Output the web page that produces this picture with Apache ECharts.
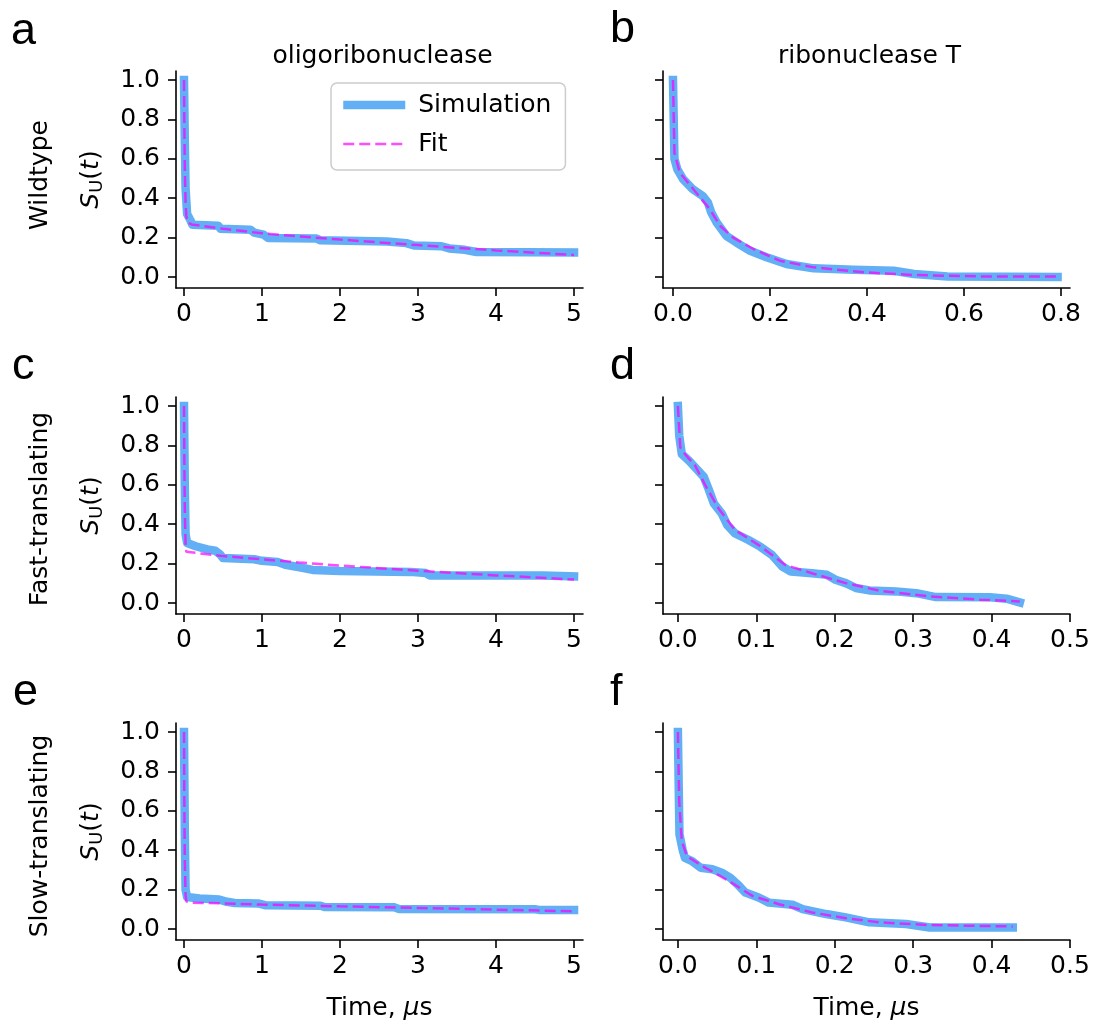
<!DOCTYPE html>
<html><head><meta charset="utf-8">
<script src="https://cdn.jsdelivr.net/npm/echarts@6/dist/echarts.min.js"></script>
<style>html,body{margin:0;padding:0;background:#fff}#c{width:1094px;height:1026px}</style>
</head><body><div id="c"></div>
<script>
// ---------- data ----------
const columnTitles = ['oligoribonuclease', 'ribonuclease T'];
const rowLabels = ['Wildtype', 'Fast-translating', 'Slow-translating'];
const panelLetters = ['a', 'b', 'c', 'd', 'e', 'f'];
const seriesNames = ['Simulation', 'Fit'];
const xTicksOligo = [0, 1, 2, 3, 4, 5];
const xTicksRiboWT = [0, 0.2, 0.4, 0.6, 0.8];
const xTicksRibo = [0, 0.1, 0.2, 0.3, 0.4, 0.5];
const yTicks = [0, 0.2, 0.4, 0.6, 0.8, 1.0];

// a: oligoribonuclease, wildtype
const simA = [[0,1.0],[0.01,0.7],[0.02,0.45],[0.04,0.32],[0.08,0.29],[0.11,0.265],[0.44,0.26],[0.47,0.245],[0.85,0.24],[0.9,0.225],[1.02,0.215],[1.08,0.198],[1.7,0.195],[1.75,0.186],[2.6,0.18],[2.85,0.172],[2.95,0.16],[3.3,0.156],[3.4,0.145],[3.6,0.138],[3.75,0.127],[5.0,0.125]];
const fitA = [[0,1.0],[0.005,0.75],[0.01,0.56],[0.02,0.38],[0.03,0.31],[0.05,0.275],[0.1,0.267],[0.5,0.245],[1.0,0.222],[1.5,0.205],[2.0,0.19],[2.5,0.176],[3.0,0.162],[3.5,0.148],[4.0,0.135],[4.5,0.123],[5.0,0.112]];
// b: ribonuclease T, wildtype
const simB = [[0,1.0],[0.003,0.6],[0.009,0.546],[0.021,0.496],[0.041,0.445],[0.062,0.41],[0.072,0.378],[0.079,0.327],[0.09,0.277],[0.11,0.209],[0.131,0.175],[0.159,0.133],[0.193,0.1],[0.234,0.066],[0.29,0.044],[0.372,0.037],[0.455,0.032],[0.497,0.015],[0.566,0.003],[0.793,0.0]];
const fitB = [[0,1.0],[0.003,0.63],[0.014,0.53],[0.048,0.428],[0.076,0.344],[0.097,0.26],[0.124,0.2],[0.166,0.142],[0.22,0.083],[0.29,0.049],[0.393,0.024],[0.497,0.01],[0.634,0.003],[0.793,0.002]];
// c: oligoribonuclease, fast-translating
const simC = [[0,1.0],[0.01,0.6],[0.02,0.35],[0.04,0.305],[0.15,0.288],[0.3,0.272],[0.4,0.265],[0.46,0.248],[0.5,0.228],[0.9,0.222],[1.0,0.214],[1.2,0.208],[1.3,0.194],[1.5,0.18],[1.65,0.168],[2.0,0.162],[2.9,0.158],[3.1,0.152],[3.15,0.14],[4.6,0.139],[5.0,0.135]];
const fitC = [[0,1.0],[0.005,0.7],[0.01,0.48],[0.02,0.3],[0.03,0.26],[0.05,0.252],[0.5,0.238],[1.0,0.222],[1.5,0.205],[2.0,0.19],[2.5,0.177],[3.0,0.164],[3.5,0.152],[4.0,0.14],[4.5,0.13],[5.0,0.119]];
// d: ribonuclease T, fast-translating
const simD = [[0,1.0],[0.0017,0.85],[0.005,0.756],[0.014,0.723],[0.024,0.68],[0.033,0.64],[0.039,0.58],[0.046,0.504],[0.056,0.454],[0.063,0.395],[0.073,0.353],[0.09,0.32],[0.105,0.286],[0.12,0.244],[0.133,0.185],[0.144,0.16],[0.171,0.151],[0.19,0.143],[0.201,0.118],[0.214,0.101],[0.227,0.076],[0.244,0.064],[0.278,0.059],[0.304,0.05],[0.329,0.03],[0.398,0.029],[0.419,0.022],[0.436,0.003]];
const fitD = [[0,1.0],[0.003,0.79],[0.009,0.756],[0.022,0.697],[0.035,0.597],[0.052,0.479],[0.073,0.37],[0.103,0.294],[0.137,0.193],[0.171,0.151],[0.214,0.101],[0.257,0.062],[0.321,0.034],[0.385,0.017],[0.436,0.008]];
// e: oligoribonuclease, slow-translating
const simE = [[0,1.0],[0.01,0.5],[0.02,0.2],[0.04,0.162],[0.2,0.155],[0.45,0.15],[0.55,0.138],[0.65,0.132],[0.95,0.13],[1.05,0.12],[1.75,0.118],[1.8,0.112],[2.7,0.11],[2.75,0.102],[4.5,0.1],[4.55,0.097],[5.0,0.096]];
const fitE = [[0,1.0],[0.005,0.6],[0.01,0.35],[0.02,0.17],[0.03,0.14],[0.1,0.134],[0.5,0.13],[1.0,0.124],[2.0,0.115],[3.0,0.107],[4.0,0.098],[5.0,0.09]];
// f: ribonuclease T, slow-translating
const simF = [[0,1.0],[0.001,0.73],[0.002,0.48],[0.006,0.403],[0.009,0.361],[0.018,0.345],[0.029,0.311],[0.044,0.303],[0.056,0.286],[0.067,0.26],[0.076,0.227],[0.086,0.185],[0.103,0.16],[0.116,0.134],[0.146,0.123],[0.159,0.101],[0.189,0.076],[0.214,0.059],[0.244,0.034],[0.291,0.025],[0.321,0.008],[0.427,0.008]];
const fitF = [[0,1.0],[0.0017,0.647],[0.005,0.445],[0.0115,0.37],[0.031,0.32],[0.065,0.244],[0.095,0.168],[0.129,0.126],[0.171,0.084],[0.214,0.055],[0.257,0.034],[0.321,0.02],[0.427,0.013]];

// ---------- layout / style ----------
const FONT = 'DejaVu Sans';
const SIM_COLOR = '#63aff5';
const FIT_COLOR = '#ff00ff';
const SIM_W = 8.5, FIT_W = 2.5, FIT_DASH = [11, 5];
const colLeft = [176, 663];
const rowTop = [71, 397, 723];
const GW = 407, GH = 217;
const panels = [
  {sim: simA, fit: fitA, col: 0, row: 0, xmin: -0.1026, xmax: 5.115, ticks: xTicksOligo, fmt: v => String(Math.round(v))},
  {sim: simB, fit: fitB, col: 1, row: 0, xmin: -0.0206, xmax: 0.8186, ticks: xTicksRiboWT, fmt: v => v.toFixed(1)},
  {sim: simC, fit: fitC, col: 0, row: 1, xmin: -0.1026, xmax: 5.115, ticks: xTicksOligo, fmt: v => String(Math.round(v))},
  {sim: simD, fit: fitD, col: 1, row: 1, xmin: -0.019, xmax: 0.5, ticks: xTicksRibo, fmt: v => v.toFixed(1)},
  {sim: simE, fit: fitE, col: 0, row: 2, xmin: -0.1026, xmax: 5.115, ticks: xTicksOligo, fmt: v => String(Math.round(v))},
  {sim: simF, fit: fitF, col: 1, row: 2, xmin: -0.019, xmax: 0.5, ticks: xTicksRibo, fmt: v => v.toFixed(1)}
];
const YMIN = -0.0558, YMAX = 1.0457;

const axLine = {show: true, onZero: false, lineStyle: {color: '#000', width: 1.6}};
const tickStyle = {color: '#000', width: 1.6};
const labelFont = {color: '#000', fontSize: 25, fontFamily: FONT};

const grids = [], xAxes = [], yAxes = [], series = [];
panels.forEach((p, i) => {
  grids.push({left: colLeft[p.col], top: rowTop[p.row], width: GW, height: GH, containLabel: false});
  const xa = {
    type: 'value', gridIndex: i, min: p.xmin, max: p.xmax,
    axisLine: axLine,
    axisTick: {show: true, length: 8, lineStyle: tickStyle, customValues: p.ticks},
    axisLabel: Object.assign({customValues: p.ticks, formatter: p.fmt, margin: 14}, labelFont),
    splitLine: {show: false}
  };
  if (p.row === 2) {
    xa.name = '{n|Time, }{i|\u03bc}{n|s}';
    xa.nameLocation = 'middle';
    xa.nameGap = 56;
    xa.nameTextStyle = {rich: {n: {fontSize: 25, fontFamily: FONT, color: '#000'}, i: {fontSize: 25, fontFamily: FONT, fontStyle: 'italic', color: '#000'}}};
  }
  xAxes.push(xa);
  const ya = {
    type: 'value', gridIndex: i, min: YMIN, max: YMAX,
    axisLine: axLine,
    axisTick: {show: true, length: 8, lineStyle: tickStyle, customValues: yTicks},
    axisLabel: Object.assign({show: p.col === 0, customValues: yTicks, formatter: v => v.toFixed(1), margin: 16}, labelFont),
    splitLine: {show: false}
  };
  if (p.col === 0) {
    ya.name = '{i|S}{s|U}{n|(}{i|t}{n|)}';
    ya.nameLocation = 'middle';
    ya.nameRotate = 90;
    ya.nameGap = 70;
    ya.nameTextStyle = {rich: {
      i: {fontSize: 25, fontFamily: FONT, fontStyle: 'italic', color: '#000', lineHeight: 30},
      n: {fontSize: 25, fontFamily: FONT, color: '#000', lineHeight: 30},
      s: {fontSize: 18, fontFamily: FONT, color: '#000', verticalAlign: 'bottom', lineHeight: 20}
    }};
  }
  yAxes.push(ya);
  series.push({
    name: seriesNames[0], type: 'line', xAxisIndex: i, yAxisIndex: i, data: p.sim,
    symbol: 'none', showSymbol: false, z: 2,
    itemStyle: {color: SIM_COLOR},
    lineStyle: {color: SIM_COLOR, width: SIM_W, cap: 'square', join: 'round'}
  });
  series.push({
    name: seriesNames[1], type: 'line', xAxisIndex: i, yAxisIndex: i, data: p.fit,
    symbol: 'none', showSymbol: false, z: 3,
    itemStyle: {color: FIT_COLOR, opacity: 0.7},
    lineStyle: {color: FIT_COLOR, opacity: 0.7, width: FIT_W, type: FIT_DASH}
  });
});

const graphics = [];
// panel letters
const letterPos = [[11, 32], [610, 30], [12, 367], [610, 367], [13, 693], [610, 693]];
panelLetters.forEach((t, i) => {
  graphics.push({type: 'text', x: letterPos[i][0], y: letterPos[i][1],
    style: {text: t, font: '45px "Liberation Sans"', fill: '#000', textAlign: 'left', textVerticalAlign: 'middle', align: 'left', verticalAlign: 'middle'}});
});
// column titles
columnTitles.forEach((t, c) => {
  graphics.push({type: 'text', x: colLeft[c] + GW / 2 + 3, y: 56,
    style: {text: t, font: '25px "DejaVu Sans"', fill: '#000', textAlign: 'center', textVerticalAlign: 'middle', align: 'center', verticalAlign: 'middle'}});
});
// row labels
const rowCenters = [175, 509, 836];
rowLabels.forEach((t, r) => {
  graphics.push({type: 'text', x: 40, y: rowCenters[r], rotation: Math.PI / 2,
    style: {text: t, font: '25px "DejaVu Sans"', fill: '#000', textAlign: 'center', textVerticalAlign: 'middle', align: 'center', verticalAlign: 'middle'}});
});

const chart = echarts.init(document.getElementById('c'), null, {renderer: 'canvas'});
chart.setOption({
  animation: false,
  backgroundColor: '#fff',
  grid: grids, xAxis: xAxes, yAxis: yAxes, series: series,
  legend: {
    data: [
      {name: seriesNames[0], itemStyle: {opacity: 0}, lineStyle: {width: SIM_W, color: SIM_COLOR, type: 'solid', cap: 'butt'}},
      {name: seriesNames[1], itemStyle: {opacity: 0}, lineStyle: {width: FIT_W, color: FIT_COLOR, opacity: 0.7, type: FIT_DASH}}
    ],
    orient: 'vertical', left: 331, top: 83,
    itemWidth: 62, itemHeight: 14, itemGap: 9,
    padding: [7, 14, 11, 8],
    backgroundColor: 'rgba(255,255,255,0.8)', borderColor: '#cccccc', borderWidth: 1.5, borderRadius: 6,
    textStyle: {fontSize: 25, fontFamily: FONT, color: '#000', lineHeight: 30, padding: [0, 0, 0, 8]},
    selectedMode: false
  },
  graphic: graphics
});
</script></body></html>
